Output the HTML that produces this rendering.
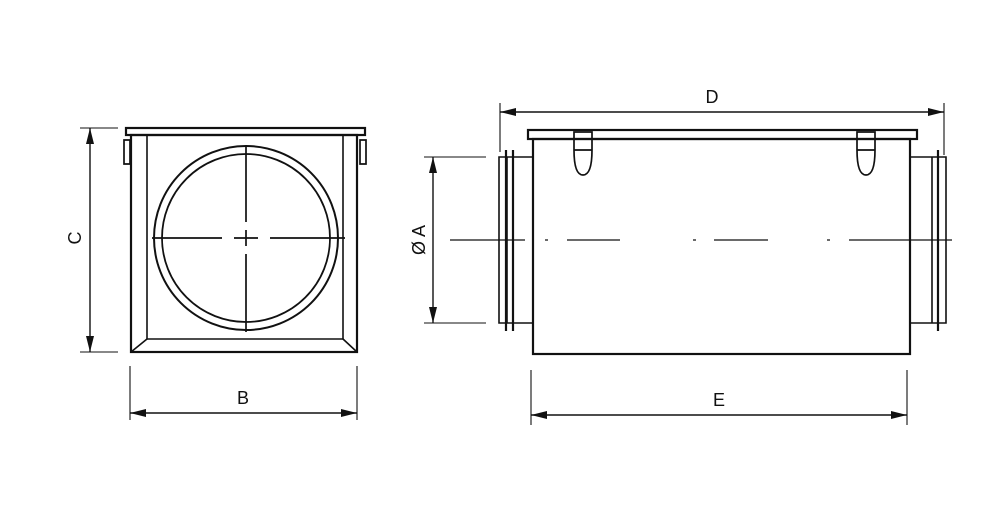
<!DOCTYPE html>
<html><head><style>html,body{margin:0;padding:0;background:#fff}svg{display:block}text{font-family:"Liberation Sans",sans-serif;font-size:18px;fill:#111}</style></head>
<body>
<svg width="1008" height="507" viewBox="0 0 1008 507" xmlns="http://www.w3.org/2000/svg">
<defs>
<marker id="a" markerWidth="16" markerHeight="8" refX="16" refY="4" orient="auto-start-reverse" markerUnits="userSpaceOnUse"><path d="M0,0 L16,4 L0,8 Z" fill="#111"/></marker>
</defs>
<g stroke="#111" fill="none" stroke-width="1.6">
<rect x="126" y="128" width="239" height="7" stroke-width="2.2"/>
<rect x="131" y="135" width="226" height="217" stroke-width="2.2"/>
<path d="M147 135 V339 H343 V135"/>
<path d="M131 352 L147 339 M357 352 L343 339"/>
<circle cx="246" cy="238" r="92" stroke-width="2"/>
<circle cx="246" cy="238" r="84" stroke-width="1.8"/>
<path d="M152 238 H222 M234 238 H258 M270 238 H345 M246 145 V222 M246 230 V246 M246 254 V332" stroke-width="1.7"/>
<path d="M124 140 h6 v24 h-6z M360 140 h6 v24 h-6z" stroke-width="1.7"/>
<path d="M80 128 H118 M80 352 H118" stroke-width="1.1"/>
<line x1="90" y1="128" x2="90" y2="352" marker-start="url(#a)" marker-end="url(#a)" stroke-width="1.4"/>
<path d="M130 366 V420 M357 366 V420" stroke-width="1.1"/>
<line x1="130" y1="413" x2="357" y2="413" marker-start="url(#a)" marker-end="url(#a)" stroke-width="1.4"/>
<rect x="528" y="130" width="389" height="9" stroke-width="2.2"/>
<rect x="533" y="139" width="377" height="215" stroke-width="2.2"/>
<path d="M533 157 H499 V323 H533 M507 157 V323 M513 157 V323"/>
<path d="M506 150 V331 M513 150 V331" stroke-width="2.2"/>
<path d="M910 157 H946 V323 H910 M932 157 V323"/>
<path d="M938 150 V331" stroke-width="2.2"/>
<path d="M574 132 h18 v18 q0 25 -9 25 q-9 0 -9 -25z M574 150 h18 M857 132 h18 v18 q0 25 -9 25 q-9 0 -9 -25z M857 150 h18" stroke-width="1.7"/>
<path d="M450 240 H525 M545 240 H548 M567 240 H620 M693 240 H696 M714 240 H768 M827 240 H830 M849 240 H952" stroke-width="1.3"/>
<path d="M500 103 V152 M944 103 V155" stroke-width="1.1"/>
<line x1="500" y1="112" x2="944" y2="112" marker-start="url(#a)" marker-end="url(#a)" stroke-width="1.4"/>
<path d="M424 157 H486 M424 323 H486" stroke-width="1.1"/>
<line x1="433" y1="157" x2="433" y2="323" marker-start="url(#a)" marker-end="url(#a)" stroke-width="1.4"/>
<path d="M531 370 V425 M907 370 V425" stroke-width="1.1"/>
<line x1="531" y1="415" x2="907" y2="415" marker-start="url(#a)" marker-end="url(#a)" stroke-width="1.4"/>
</g>
<text x="243" y="404" text-anchor="middle">B</text>
<text x="712" y="103" text-anchor="middle">D</text>
<text x="719" y="406" text-anchor="middle">E</text>
<text transform="translate(81,238) rotate(-90)" text-anchor="middle">C</text>
<text transform="translate(425,240) rotate(-90)" text-anchor="middle">Ø A</text>
</svg>
</body></html>
